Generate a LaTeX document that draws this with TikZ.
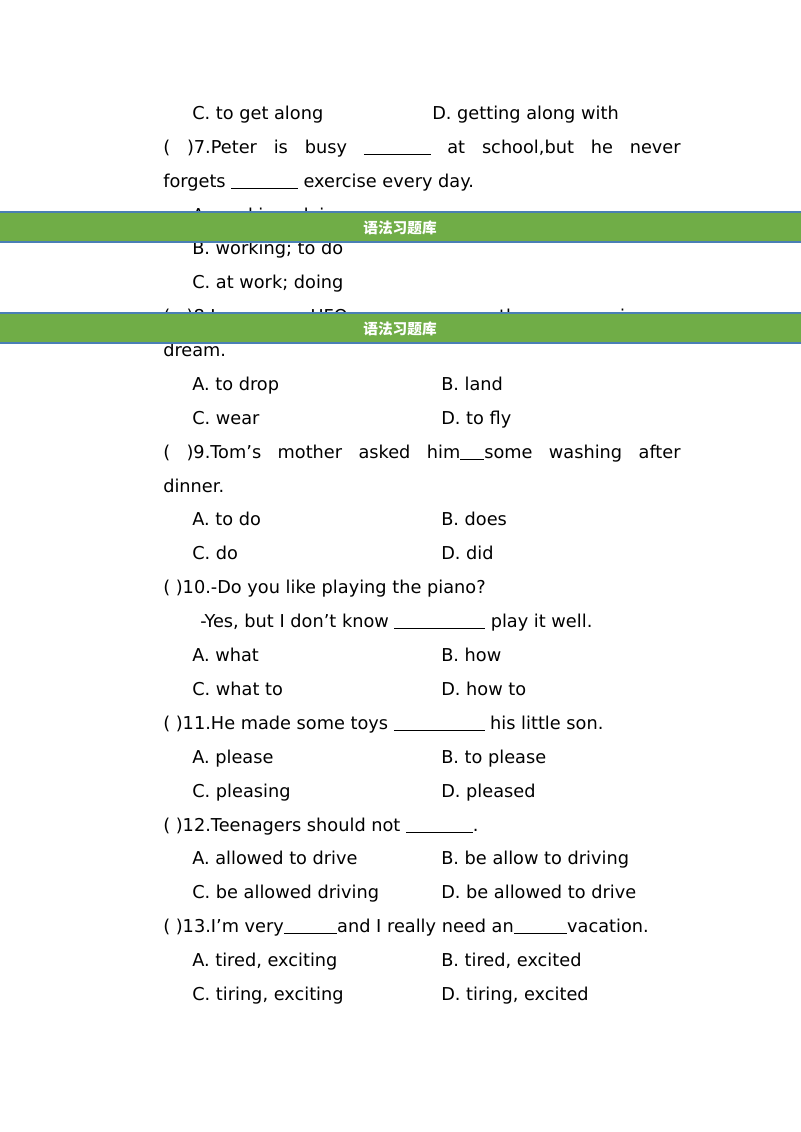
\documentclass[tikz,border=0pt]{standalone}
\usepackage{fontspec}
\setmainfont{DejaVu Sans}
\newfontfamily\cjk{Noto Sans CJK SC}
\definecolor{bangreen}{HTML}{70AD47}
\definecolor{banedge}{HTML}{4A7FB5}
\begin{document}
\begin{tikzpicture}[x=0.75pt,y=-0.75pt,
  txt/.style={anchor=base west,inner sep=0pt,font=\fontsize{13.3}{16}\selectfont},
  banner/.style={fill=bangreen,draw=banedge,line width=0.8pt},
  bantext/.style={text=white,font=\cjk\bfseries\fontsize{11}{13}\selectfont}]
\useasboundingbox (0,0) rectangle (800,1132);
\fill[white] (0,0) rectangle (800,1132);
\newcommand{\bl}[1]{\rule[-1.5pt]{#1pt}{0.6pt}}
\newcommand{\js}[1]{\makebox[388pt][s]{#1}}
\node[txt] (l1a) at (192,119) {C. to get along};
\node[txt] (l1b) at (432,119) {D. getting along with};
\node[txt] (l2) at (163,153) {\js{( )7.Peter is busy \bl{50} at school,but he never}};
\node[txt] (l3) at (163,187) {forgets \bl{50} exercise every day.};
\node[txt] (l4) at (192,221) {A. working; doing};
\node[txt] (l5) at (192,254) {B. working; to do};
\node[txt] (l6) at (192,288) {C. at work; doing};
\node[txt] (l7) at (163,322) {\js{( )8.I saw a UFO \bl{60} on the screen in my}};
\node[txt] (l8) at (163,356) {dream.};
\node[txt] (o1) at (192,390) {A. to drop};
\node[txt] (o2) at (441,390) {B. land};
\node[txt] (o3) at (192,424) {C. wear};
\node[txt] (o4) at (441,424) {D. to fly};
\node[txt] (q9) at (163,458) {\js{( )9.Tom's mother asked him\bl{18}some washing after}};
\node[txt] (q9b) at (163,492) {dinner.};
\node[txt] (p1) at (192,525) {A. to do};
\node[txt] (p2) at (441,525) {B. does};
\node[txt] (p3) at (192,559) {C. do};
\node[txt] (p4) at (441,559) {D. did};
\node[txt] (q10) at (163,593) {( )10.-Do you like playing the piano?};
\node[txt] (q10b) at (200,627) {-Yes, but I don't know \bl{68} play it well.};
\node[txt] (r1) at (192,661) {A. what};
\node[txt] (r2) at (441,661) {B. how};
\node[txt] (r3) at (192,695) {C. what to};
\node[txt] (r4) at (441,695) {D. how to};
\node[txt] (q11) at (163,729) {( )11.He made some toys \bl{68} his little son.};
\node[txt] (s1) at (192,763) {A. please};
\node[txt] (s2) at (441,763) {B. to please};
\node[txt] (s3) at (192,797) {C. pleasing};
\node[txt] (s4) at (441,797) {D. pleased};
\node[txt] (q12) at (163,831) {( )12.Teenagers should not \bl{50}.};
\node[txt] (t1) at (192,864) {A. allowed to drive};
\node[txt] (t2) at (441,864) {B. be allow to driving};
\node[txt] (t3) at (192,898) {C. be allowed driving};
\node[txt] (t4) at (441,898) {D. be allowed to drive};
\node[txt] (q13) at (163,932) {( )13.I'm very\bl{40}and I really need an\bl{40}vacation.};
\node[txt] (u1) at (192,966) {A. tired, exciting};
\node[txt] (u2) at (441,966) {B. tired, excited};
\node[txt] (u3) at (192,1000) {C. tiring, exciting};
\node[txt] (u4) at (441,1000) {D. tiring, excited};
\draw[banner] (-2,212) rectangle (802,242);
\node[bantext] (b1) at (400,227.5) {语法习题库};
\draw[banner] (-2,313) rectangle (802,343);
\node[bantext] (b2) at (400,328.5) {语法习题库};
\end{tikzpicture}
\end{document}
